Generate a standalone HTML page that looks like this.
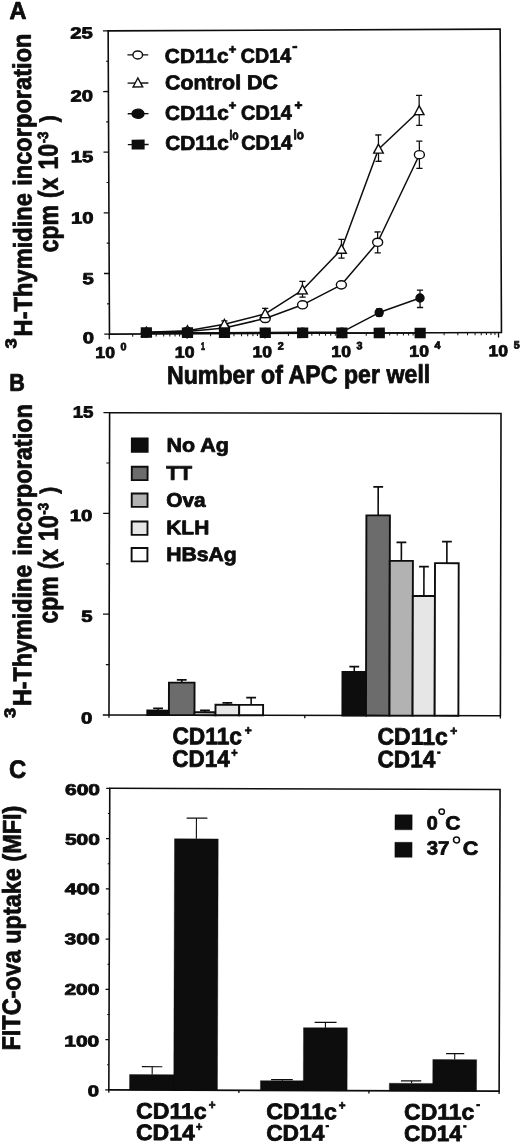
<!DOCTYPE html>
<html><head><meta charset="utf-8"><title>Figure</title>
<style>
html,body{margin:0;padding:0;background:#fff;}
body{width:520px;height:1144px;overflow:hidden;font-family:"Liberation Sans",sans-serif;}
svg{display:block;filter:grayscale(1);}
text{text-rendering:geometricPrecision;}
</style></head><body>
<svg width="520" height="1144" viewBox="0 0 520 1144">
<rect width="520" height="1144" fill="#fff"/>
<g transform="rotate(-0.25 304.4 181.35)">
<text x="10.20" y="17.80" font-size="24.5" font-family="Liberation Sans, sans-serif" font-weight="bold" stroke="#0d0d0d" stroke-width="0.8" stroke-linejoin="round" fill="#0d0d0d" textLength="17.00" lengthAdjust="spacingAndGlyphs" >A</text>
<rect x="108.8" y="30.0" width="392.00" height="303.30" fill="none" stroke="#0d0d0d" stroke-width="1.6"/>
<line x1="103.60" y1="333.30" x2="108.80" y2="333.30" stroke="#0d0d0d" stroke-width="1.3"/>
<text x="82.10" y="342.40" font-size="16" font-family="Liberation Sans, sans-serif" font-weight="bold" stroke="#0d0d0d" stroke-width="0.8" stroke-linejoin="round" fill="#0d0d0d" textLength="11.30" lengthAdjust="spacingAndGlyphs" >0</text>
<line x1="103.60" y1="272.64" x2="108.80" y2="272.64" stroke="#0d0d0d" stroke-width="1.3"/>
<text x="82.10" y="283.40" font-size="16" font-family="Liberation Sans, sans-serif" font-weight="bold" stroke="#0d0d0d" stroke-width="0.8" stroke-linejoin="round" fill="#0d0d0d" textLength="11.30" lengthAdjust="spacingAndGlyphs" >5</text>
<line x1="103.60" y1="211.98" x2="108.80" y2="211.98" stroke="#0d0d0d" stroke-width="1.3"/>
<text x="70.80" y="222.40" font-size="16" font-family="Liberation Sans, sans-serif" font-weight="bold" stroke="#0d0d0d" stroke-width="0.8" stroke-linejoin="round" fill="#0d0d0d" textLength="22.60" lengthAdjust="spacingAndGlyphs" >10</text>
<line x1="103.60" y1="151.32" x2="108.80" y2="151.32" stroke="#0d0d0d" stroke-width="1.3"/>
<text x="70.80" y="161.30" font-size="16" font-family="Liberation Sans, sans-serif" font-weight="bold" stroke="#0d0d0d" stroke-width="0.8" stroke-linejoin="round" fill="#0d0d0d" textLength="22.60" lengthAdjust="spacingAndGlyphs" >15</text>
<line x1="103.60" y1="90.66" x2="108.80" y2="90.66" stroke="#0d0d0d" stroke-width="1.3"/>
<text x="70.80" y="100.40" font-size="16" font-family="Liberation Sans, sans-serif" font-weight="bold" stroke="#0d0d0d" stroke-width="0.8" stroke-linejoin="round" fill="#0d0d0d" textLength="22.60" lengthAdjust="spacingAndGlyphs" >20</text>
<line x1="103.60" y1="30.00" x2="108.80" y2="30.00" stroke="#0d0d0d" stroke-width="1.3"/>
<text x="70.80" y="37.50" font-size="16" font-family="Liberation Sans, sans-serif" font-weight="bold" stroke="#0d0d0d" stroke-width="0.8" stroke-linejoin="round" fill="#0d0d0d" textLength="22.60" lengthAdjust="spacingAndGlyphs" >25</text>
<line x1="106.50" y1="302.97" x2="108.80" y2="302.97" stroke="#0d0d0d" stroke-width="1.1"/>
<line x1="106.50" y1="242.31" x2="108.80" y2="242.31" stroke="#0d0d0d" stroke-width="1.1"/>
<line x1="106.50" y1="181.65" x2="108.80" y2="181.65" stroke="#0d0d0d" stroke-width="1.1"/>
<line x1="106.50" y1="120.99" x2="108.80" y2="120.99" stroke="#0d0d0d" stroke-width="1.1"/>
<line x1="106.50" y1="60.33" x2="108.80" y2="60.33" stroke="#0d0d0d" stroke-width="1.1"/>
<line x1="108.60" y1="333.30" x2="108.60" y2="338.30" stroke="#0d0d0d" stroke-width="1.3"/>
<text x="94.60" y="357.10" font-size="15.8" font-family="Liberation Sans, sans-serif" font-weight="bold" stroke="#0d0d0d" stroke-width="0.8" stroke-linejoin="round" fill="#0d0d0d" textLength="19.60" lengthAdjust="spacingAndGlyphs" >10</text>
<text x="119.80" y="349.40" font-size="10.6" font-family="Liberation Sans, sans-serif" font-weight="bold" stroke="#0d0d0d" stroke-width="0.8" stroke-linejoin="round" fill="#0d0d0d" textLength="6.00" lengthAdjust="spacingAndGlyphs" >0</text>
<line x1="132.04" y1="333.30" x2="132.04" y2="335.90" stroke="#0d0d0d" stroke-width="1.0"/>
<line x1="145.74" y1="333.30" x2="145.74" y2="335.90" stroke="#0d0d0d" stroke-width="1.0"/>
<line x1="155.47" y1="333.30" x2="155.47" y2="335.90" stroke="#0d0d0d" stroke-width="1.0"/>
<line x1="163.01" y1="333.30" x2="163.01" y2="335.90" stroke="#0d0d0d" stroke-width="1.0"/>
<line x1="169.18" y1="333.30" x2="169.18" y2="335.90" stroke="#0d0d0d" stroke-width="1.0"/>
<line x1="174.39" y1="333.30" x2="174.39" y2="335.90" stroke="#0d0d0d" stroke-width="1.0"/>
<line x1="178.91" y1="333.30" x2="178.91" y2="335.90" stroke="#0d0d0d" stroke-width="1.0"/>
<line x1="182.89" y1="333.30" x2="182.89" y2="335.90" stroke="#0d0d0d" stroke-width="1.0"/>
<line x1="186.45" y1="333.30" x2="186.45" y2="338.30" stroke="#0d0d0d" stroke-width="1.3"/>
<text x="174.10" y="357.10" font-size="15.8" font-family="Liberation Sans, sans-serif" font-weight="bold" stroke="#0d0d0d" stroke-width="0.8" stroke-linejoin="round" fill="#0d0d0d" textLength="19.60" lengthAdjust="spacingAndGlyphs" >10</text>
<text x="200.30" y="349.40" font-size="10.6" font-family="Liberation Sans, sans-serif" font-weight="bold" stroke="#0d0d0d" stroke-width="0.8" stroke-linejoin="round" fill="#0d0d0d" textLength="4.00" lengthAdjust="spacingAndGlyphs" >1</text>
<line x1="209.89" y1="333.30" x2="209.89" y2="335.90" stroke="#0d0d0d" stroke-width="1.0"/>
<line x1="223.59" y1="333.30" x2="223.59" y2="335.90" stroke="#0d0d0d" stroke-width="1.0"/>
<line x1="233.32" y1="333.30" x2="233.32" y2="335.90" stroke="#0d0d0d" stroke-width="1.0"/>
<line x1="240.86" y1="333.30" x2="240.86" y2="335.90" stroke="#0d0d0d" stroke-width="1.0"/>
<line x1="247.03" y1="333.30" x2="247.03" y2="335.90" stroke="#0d0d0d" stroke-width="1.0"/>
<line x1="252.24" y1="333.30" x2="252.24" y2="335.90" stroke="#0d0d0d" stroke-width="1.0"/>
<line x1="256.76" y1="333.30" x2="256.76" y2="335.90" stroke="#0d0d0d" stroke-width="1.0"/>
<line x1="260.74" y1="333.30" x2="260.74" y2="335.90" stroke="#0d0d0d" stroke-width="1.0"/>
<line x1="264.30" y1="333.30" x2="264.30" y2="338.30" stroke="#0d0d0d" stroke-width="1.3"/>
<text x="251.80" y="357.10" font-size="15.8" font-family="Liberation Sans, sans-serif" font-weight="bold" stroke="#0d0d0d" stroke-width="0.8" stroke-linejoin="round" fill="#0d0d0d" textLength="19.60" lengthAdjust="spacingAndGlyphs" >10</text>
<text x="277.00" y="349.40" font-size="10.6" font-family="Liberation Sans, sans-serif" font-weight="bold" stroke="#0d0d0d" stroke-width="0.8" stroke-linejoin="round" fill="#0d0d0d" textLength="6.00" lengthAdjust="spacingAndGlyphs" >2</text>
<line x1="287.74" y1="333.30" x2="287.74" y2="335.90" stroke="#0d0d0d" stroke-width="1.0"/>
<line x1="301.44" y1="333.30" x2="301.44" y2="335.90" stroke="#0d0d0d" stroke-width="1.0"/>
<line x1="311.17" y1="333.30" x2="311.17" y2="335.90" stroke="#0d0d0d" stroke-width="1.0"/>
<line x1="318.71" y1="333.30" x2="318.71" y2="335.90" stroke="#0d0d0d" stroke-width="1.0"/>
<line x1="324.88" y1="333.30" x2="324.88" y2="335.90" stroke="#0d0d0d" stroke-width="1.0"/>
<line x1="330.09" y1="333.30" x2="330.09" y2="335.90" stroke="#0d0d0d" stroke-width="1.0"/>
<line x1="334.61" y1="333.30" x2="334.61" y2="335.90" stroke="#0d0d0d" stroke-width="1.0"/>
<line x1="338.59" y1="333.30" x2="338.59" y2="335.90" stroke="#0d0d0d" stroke-width="1.0"/>
<line x1="342.15" y1="333.30" x2="342.15" y2="338.30" stroke="#0d0d0d" stroke-width="1.3"/>
<text x="330.60" y="357.10" font-size="15.8" font-family="Liberation Sans, sans-serif" font-weight="bold" stroke="#0d0d0d" stroke-width="0.8" stroke-linejoin="round" fill="#0d0d0d" textLength="19.60" lengthAdjust="spacingAndGlyphs" >10</text>
<text x="355.80" y="349.40" font-size="10.6" font-family="Liberation Sans, sans-serif" font-weight="bold" stroke="#0d0d0d" stroke-width="0.8" stroke-linejoin="round" fill="#0d0d0d" textLength="6.00" lengthAdjust="spacingAndGlyphs" >3</text>
<line x1="365.59" y1="333.30" x2="365.59" y2="335.90" stroke="#0d0d0d" stroke-width="1.0"/>
<line x1="379.29" y1="333.30" x2="379.29" y2="335.90" stroke="#0d0d0d" stroke-width="1.0"/>
<line x1="389.02" y1="333.30" x2="389.02" y2="335.90" stroke="#0d0d0d" stroke-width="1.0"/>
<line x1="396.56" y1="333.30" x2="396.56" y2="335.90" stroke="#0d0d0d" stroke-width="1.0"/>
<line x1="402.73" y1="333.30" x2="402.73" y2="335.90" stroke="#0d0d0d" stroke-width="1.0"/>
<line x1="407.94" y1="333.30" x2="407.94" y2="335.90" stroke="#0d0d0d" stroke-width="1.0"/>
<line x1="412.46" y1="333.30" x2="412.46" y2="335.90" stroke="#0d0d0d" stroke-width="1.0"/>
<line x1="416.44" y1="333.30" x2="416.44" y2="335.90" stroke="#0d0d0d" stroke-width="1.0"/>
<line x1="420.00" y1="333.30" x2="420.00" y2="338.30" stroke="#0d0d0d" stroke-width="1.3"/>
<text x="408.60" y="357.10" font-size="15.8" font-family="Liberation Sans, sans-serif" font-weight="bold" stroke="#0d0d0d" stroke-width="0.8" stroke-linejoin="round" fill="#0d0d0d" textLength="19.60" lengthAdjust="spacingAndGlyphs" >10</text>
<text x="433.80" y="349.40" font-size="10.6" font-family="Liberation Sans, sans-serif" font-weight="bold" stroke="#0d0d0d" stroke-width="0.8" stroke-linejoin="round" fill="#0d0d0d" textLength="6.00" lengthAdjust="spacingAndGlyphs" >4</text>
<line x1="443.44" y1="333.30" x2="443.44" y2="335.90" stroke="#0d0d0d" stroke-width="1.0"/>
<line x1="457.14" y1="333.30" x2="457.14" y2="335.90" stroke="#0d0d0d" stroke-width="1.0"/>
<line x1="466.87" y1="333.30" x2="466.87" y2="335.90" stroke="#0d0d0d" stroke-width="1.0"/>
<line x1="474.41" y1="333.30" x2="474.41" y2="335.90" stroke="#0d0d0d" stroke-width="1.0"/>
<line x1="480.58" y1="333.30" x2="480.58" y2="335.90" stroke="#0d0d0d" stroke-width="1.0"/>
<line x1="485.79" y1="333.30" x2="485.79" y2="335.90" stroke="#0d0d0d" stroke-width="1.0"/>
<line x1="490.31" y1="333.30" x2="490.31" y2="335.90" stroke="#0d0d0d" stroke-width="1.0"/>
<line x1="494.29" y1="333.30" x2="494.29" y2="335.90" stroke="#0d0d0d" stroke-width="1.0"/>
<line x1="497.85" y1="333.30" x2="497.85" y2="338.30" stroke="#0d0d0d" stroke-width="1.3"/>
<text x="487.80" y="357.10" font-size="15.8" font-family="Liberation Sans, sans-serif" font-weight="bold" stroke="#0d0d0d" stroke-width="0.8" stroke-linejoin="round" fill="#0d0d0d" textLength="19.60" lengthAdjust="spacingAndGlyphs" >10</text>
<text x="513.00" y="349.40" font-size="10.6" font-family="Liberation Sans, sans-serif" font-weight="bold" stroke="#0d0d0d" stroke-width="0.8" stroke-linejoin="round" fill="#0d0d0d" textLength="6.00" lengthAdjust="spacingAndGlyphs" >5</text>
<text x="166.00" y="383.30" font-size="25.6" font-family="Liberation Sans, sans-serif" font-weight="bold" stroke="#0d0d0d" stroke-width="0.8" stroke-linejoin="round" fill="#0d0d0d" textLength="263.40" lengthAdjust="spacingAndGlyphs" >Number of APC per well</text>
<text transform="translate(15.60,347.30) rotate(-90)" font-size="15.5" font-family="Liberation Sans, sans-serif" font-weight="bold" stroke="#0d0d0d" stroke-width="0.8" stroke-linejoin="round" fill="#0d0d0d" textLength="10.30" lengthAdjust="spacingAndGlyphs">3</text>
<text transform="translate(31.40,335.20) rotate(-90)" font-size="25.8" font-family="Liberation Sans, sans-serif" font-weight="bold" stroke="#0d0d0d" stroke-width="0.8" stroke-linejoin="round" fill="#0d0d0d" textLength="143.40" lengthAdjust="spacingAndGlyphs">H-Thymidine</text>
<text transform="translate(31.40,184.60) rotate(-90)" font-size="25.8" font-family="Liberation Sans, sans-serif" font-weight="bold" stroke="#0d0d0d" stroke-width="0.8" stroke-linejoin="round" fill="#0d0d0d" textLength="152.30" lengthAdjust="spacingAndGlyphs">incorporation</text>
<text transform="translate(57.70,251.10) rotate(-90)" font-size="27.5" font-family="Liberation Sans, sans-serif" font-weight="bold" stroke="#0d0d0d" stroke-width="0.8" stroke-linejoin="round" fill="#0d0d0d" textLength="47.10" lengthAdjust="spacingAndGlyphs">cpm</text>
<text transform="translate(57.70,196.80) rotate(-90)" font-size="27.5" font-family="Liberation Sans, sans-serif" font-weight="bold" stroke="#0d0d0d" stroke-width="0.8" stroke-linejoin="round" fill="#0d0d0d" textLength="20.30" lengthAdjust="spacingAndGlyphs">(x</text>
<text transform="translate(57.70,168.50) rotate(-90)" font-size="27.5" font-family="Liberation Sans, sans-serif" font-weight="bold" stroke="#0d0d0d" stroke-width="0.8" stroke-linejoin="round" fill="#0d0d0d" textLength="25.70" lengthAdjust="spacingAndGlyphs">10</text>
<text transform="translate(48.20,142.20) rotate(-90)" font-size="14.8" font-family="Liberation Sans, sans-serif" font-weight="bold" stroke="#0d0d0d" stroke-width="0.8" stroke-linejoin="round" fill="#0d0d0d" textLength="11.80" lengthAdjust="spacingAndGlyphs">-3</text>
<text transform="translate(56.70,121.20) rotate(-90)" font-size="23.5" font-family="Liberation Sans, sans-serif" font-weight="bold" stroke="#0d0d0d" stroke-width="0.8" stroke-linejoin="round" fill="#0d0d0d" textLength="7.00" lengthAdjust="spacingAndGlyphs">)</text>
<polyline points="145.70,331.60 186.80,330.20 223.80,324.00 264.60,313.60 302.00,290.00 341.20,249.50 378.60,149.50 419.50,111.30" fill="none" stroke="#0d0d0d" stroke-width="1.5" stroke-linejoin="round"/>
<polyline points="145.70,331.90 186.80,331.00 223.80,327.60 264.60,318.30 302.00,304.80 340.90,285.00 377.40,242.60 419.50,155.20" fill="none" stroke="#0d0d0d" stroke-width="1.5" stroke-linejoin="round"/>
<polyline points="145.70,332.30 186.80,332.30 223.80,332.30 264.60,332.30 302.00,332.30 341.20,332.30 378.60,312.90 419.50,298.50" fill="none" stroke="#0d0d0d" stroke-width="1.5" stroke-linejoin="round"/>
<polyline points="145.70,331.90 186.80,332.14 223.80,332.36 264.60,332.59 302.00,332.81 341.20,333.04 378.60,333.26 419.50,333.50" fill="none" stroke="#0d0d0d" stroke-width="1.5" stroke-linejoin="round"/>
<line x1="223.80" y1="320.50" x2="223.80" y2="327.00" stroke="#0d0d0d" stroke-width="1.25"/>
<line x1="220.70" y1="320.50" x2="226.90" y2="320.50" stroke="#0d0d0d" stroke-width="1.3"/>
<line x1="220.70" y1="327.00" x2="226.90" y2="327.00" stroke="#0d0d0d" stroke-width="1.3"/>
<line x1="264.60" y1="308.20" x2="264.60" y2="318.50" stroke="#0d0d0d" stroke-width="1.25"/>
<line x1="261.50" y1="308.20" x2="267.70" y2="308.20" stroke="#0d0d0d" stroke-width="1.3"/>
<line x1="261.50" y1="318.50" x2="267.70" y2="318.50" stroke="#0d0d0d" stroke-width="1.3"/>
<line x1="302.00" y1="281.40" x2="302.00" y2="297.20" stroke="#0d0d0d" stroke-width="1.25"/>
<line x1="298.90" y1="281.40" x2="305.10" y2="281.40" stroke="#0d0d0d" stroke-width="1.3"/>
<line x1="298.90" y1="297.20" x2="305.10" y2="297.20" stroke="#0d0d0d" stroke-width="1.3"/>
<line x1="341.20" y1="239.60" x2="341.20" y2="258.20" stroke="#0d0d0d" stroke-width="1.25"/>
<line x1="338.10" y1="239.60" x2="344.30" y2="239.60" stroke="#0d0d0d" stroke-width="1.3"/>
<line x1="338.10" y1="258.20" x2="344.30" y2="258.20" stroke="#0d0d0d" stroke-width="1.3"/>
<line x1="378.60" y1="135.30" x2="378.60" y2="161.60" stroke="#0d0d0d" stroke-width="1.25"/>
<line x1="375.50" y1="135.30" x2="381.70" y2="135.30" stroke="#0d0d0d" stroke-width="1.3"/>
<line x1="375.50" y1="161.60" x2="381.70" y2="161.60" stroke="#0d0d0d" stroke-width="1.3"/>
<line x1="419.50" y1="95.90" x2="419.50" y2="125.80" stroke="#0d0d0d" stroke-width="1.25"/>
<line x1="416.40" y1="95.90" x2="422.60" y2="95.90" stroke="#0d0d0d" stroke-width="1.3"/>
<line x1="416.40" y1="125.80" x2="422.60" y2="125.80" stroke="#0d0d0d" stroke-width="1.3"/>
<line x1="264.60" y1="315.00" x2="264.60" y2="322.00" stroke="#0d0d0d" stroke-width="1.25"/>
<line x1="261.50" y1="315.00" x2="267.70" y2="315.00" stroke="#0d0d0d" stroke-width="1.3"/>
<line x1="261.50" y1="322.00" x2="267.70" y2="322.00" stroke="#0d0d0d" stroke-width="1.3"/>
<line x1="377.40" y1="232.30" x2="377.40" y2="253.20" stroke="#0d0d0d" stroke-width="1.25"/>
<line x1="374.30" y1="232.30" x2="380.50" y2="232.30" stroke="#0d0d0d" stroke-width="1.3"/>
<line x1="374.30" y1="253.20" x2="380.50" y2="253.20" stroke="#0d0d0d" stroke-width="1.3"/>
<line x1="419.50" y1="141.70" x2="419.50" y2="168.80" stroke="#0d0d0d" stroke-width="1.25"/>
<line x1="416.40" y1="141.70" x2="422.60" y2="141.70" stroke="#0d0d0d" stroke-width="1.3"/>
<line x1="416.40" y1="168.80" x2="422.60" y2="168.80" stroke="#0d0d0d" stroke-width="1.3"/>
<line x1="378.60" y1="309.30" x2="378.60" y2="316.50" stroke="#0d0d0d" stroke-width="1.25"/>
<line x1="375.50" y1="309.30" x2="381.70" y2="309.30" stroke="#0d0d0d" stroke-width="1.3"/>
<line x1="375.50" y1="316.50" x2="381.70" y2="316.50" stroke="#0d0d0d" stroke-width="1.3"/>
<line x1="419.50" y1="290.60" x2="419.50" y2="308.00" stroke="#0d0d0d" stroke-width="1.25"/>
<line x1="416.40" y1="290.60" x2="422.60" y2="290.60" stroke="#0d0d0d" stroke-width="1.3"/>
<line x1="416.40" y1="308.00" x2="422.60" y2="308.00" stroke="#0d0d0d" stroke-width="1.3"/>
<ellipse cx="145.70" cy="331.90" rx="5.0" ry="4.1" fill="#fff" stroke="#0d0d0d" stroke-width="1.4"/>
<ellipse cx="186.80" cy="331.00" rx="5.0" ry="4.1" fill="#fff" stroke="#0d0d0d" stroke-width="1.4"/>
<ellipse cx="223.80" cy="327.60" rx="5.0" ry="4.1" fill="#fff" stroke="#0d0d0d" stroke-width="1.4"/>
<ellipse cx="264.60" cy="318.30" rx="5.0" ry="4.1" fill="#fff" stroke="#0d0d0d" stroke-width="1.4"/>
<ellipse cx="302.00" cy="304.80" rx="5.0" ry="4.1" fill="#fff" stroke="#0d0d0d" stroke-width="1.4"/>
<ellipse cx="340.90" cy="285.00" rx="5.0" ry="4.1" fill="#fff" stroke="#0d0d0d" stroke-width="1.4"/>
<ellipse cx="377.40" cy="242.60" rx="5.0" ry="4.1" fill="#fff" stroke="#0d0d0d" stroke-width="1.4"/>
<ellipse cx="419.50" cy="155.20" rx="5.0" ry="4.1" fill="#fff" stroke="#0d0d0d" stroke-width="1.4"/>
<polygon points="145.70,326.60 140.90,335.50 150.50,335.50" fill="#fff" stroke="#0d0d0d" stroke-width="1.4" stroke-linejoin="miter"/>
<polygon points="186.80,325.20 182.00,334.10 191.60,334.10" fill="#fff" stroke="#0d0d0d" stroke-width="1.4" stroke-linejoin="miter"/>
<polygon points="223.80,319.00 219.00,327.90 228.60,327.90" fill="#fff" stroke="#0d0d0d" stroke-width="1.4" stroke-linejoin="miter"/>
<polygon points="264.60,308.60 259.80,317.50 269.40,317.50" fill="#fff" stroke="#0d0d0d" stroke-width="1.4" stroke-linejoin="miter"/>
<polygon points="302.00,285.00 297.20,293.90 306.80,293.90" fill="#fff" stroke="#0d0d0d" stroke-width="1.4" stroke-linejoin="miter"/>
<polygon points="341.20,244.50 336.40,253.40 346.00,253.40" fill="#fff" stroke="#0d0d0d" stroke-width="1.4" stroke-linejoin="miter"/>
<polygon points="378.60,144.50 373.80,153.40 383.40,153.40" fill="#fff" stroke="#0d0d0d" stroke-width="1.4" stroke-linejoin="miter"/>
<polygon points="419.50,106.30 414.70,115.20 424.30,115.20" fill="#fff" stroke="#0d0d0d" stroke-width="1.4" stroke-linejoin="miter"/>
<ellipse cx="145.70" cy="332.30" rx="4.0" ry="4.0" fill="#0d0d0d" stroke="#0d0d0d" stroke-width="1.4"/>
<ellipse cx="186.80" cy="332.30" rx="4.0" ry="4.0" fill="#0d0d0d" stroke="#0d0d0d" stroke-width="1.4"/>
<ellipse cx="223.80" cy="332.30" rx="4.0" ry="4.0" fill="#0d0d0d" stroke="#0d0d0d" stroke-width="1.4"/>
<ellipse cx="264.60" cy="332.30" rx="4.0" ry="4.0" fill="#0d0d0d" stroke="#0d0d0d" stroke-width="1.4"/>
<ellipse cx="302.00" cy="332.30" rx="4.0" ry="4.0" fill="#0d0d0d" stroke="#0d0d0d" stroke-width="1.4"/>
<ellipse cx="341.20" cy="332.30" rx="4.0" ry="4.0" fill="#0d0d0d" stroke="#0d0d0d" stroke-width="1.4"/>
<ellipse cx="378.60" cy="312.90" rx="4.0" ry="4.0" fill="#0d0d0d" stroke="#0d0d0d" stroke-width="1.4"/>
<ellipse cx="419.50" cy="298.50" rx="4.0" ry="4.0" fill="#0d0d0d" stroke="#0d0d0d" stroke-width="1.4"/>
<rect x="140.10" y="326.60" width="11.2" height="10.6" fill="#0d0d0d"/>
<rect x="181.20" y="326.84" width="11.2" height="10.6" fill="#0d0d0d"/>
<rect x="218.20" y="327.06" width="11.2" height="10.6" fill="#0d0d0d"/>
<rect x="259.00" y="327.29" width="11.2" height="10.6" fill="#0d0d0d"/>
<rect x="296.40" y="327.51" width="11.2" height="10.6" fill="#0d0d0d"/>
<rect x="335.60" y="327.74" width="11.2" height="10.6" fill="#0d0d0d"/>
<rect x="373.00" y="327.96" width="11.2" height="10.6" fill="#0d0d0d"/>
<rect x="413.90" y="328.20" width="11.2" height="10.6" fill="#0d0d0d"/>
<line x1="128.00" y1="54.20" x2="148.80" y2="54.20" stroke="#0d0d0d" stroke-width="1.3"/>
<line x1="128.00" y1="82.30" x2="148.80" y2="82.30" stroke="#0d0d0d" stroke-width="1.3"/>
<line x1="128.00" y1="113.00" x2="148.80" y2="113.00" stroke="#0d0d0d" stroke-width="1.3"/>
<line x1="128.00" y1="143.80" x2="148.80" y2="143.80" stroke="#0d0d0d" stroke-width="1.3"/>
<ellipse cx="138.30" cy="54.20" rx="4.8" ry="4.0" fill="#fff" stroke="#0d0d0d" stroke-width="1.4"/>
<polygon points="138.30,77.30 133.50,86.20 143.10,86.20" fill="#fff" stroke="#0d0d0d" stroke-width="1.4" stroke-linejoin="miter"/>
<ellipse cx="138.30" cy="113.00" rx="6.0" ry="4.6" fill="#0d0d0d" stroke="#0d0d0d" stroke-width="1.4"/>
<rect x="131.80" y="138.90" width="13.0" height="9.8" fill="#0d0d0d"/>
<text x="165.40" y="62.40" font-size="20.2" font-family="Liberation Sans, sans-serif" font-weight="bold" stroke="#0d0d0d" stroke-width="0.8" stroke-linejoin="round" fill="#0d0d0d" textLength="63.60" lengthAdjust="spacingAndGlyphs" >CD11c</text>
<text x="229.20" y="53.40" font-size="13" font-family="Liberation Sans, sans-serif" font-weight="bold" stroke="#0d0d0d" stroke-width="0.8" stroke-linejoin="round" fill="#0d0d0d" textLength="7.60" lengthAdjust="spacingAndGlyphs" >+</text>
<text x="241.40" y="62.40" font-size="20.2" font-family="Liberation Sans, sans-serif" font-weight="bold" stroke="#0d0d0d" stroke-width="0.8" stroke-linejoin="round" fill="#0d0d0d" textLength="50.20" lengthAdjust="spacingAndGlyphs" >CD14</text>
<text x="292.80" y="50.80" font-size="14" font-family="Liberation Sans, sans-serif" font-weight="bold" stroke="#0d0d0d" stroke-width="0.8" stroke-linejoin="round" fill="#0d0d0d" textLength="5.20" lengthAdjust="spacingAndGlyphs" >-</text>
<text x="165.40" y="88.90" font-size="20.2" font-family="Liberation Sans, sans-serif" font-weight="bold" stroke="#0d0d0d" stroke-width="0.8" stroke-linejoin="round" fill="#0d0d0d" textLength="113.00" lengthAdjust="spacingAndGlyphs" >Control DC</text>
<text x="165.40" y="119.40" font-size="20.2" font-family="Liberation Sans, sans-serif" font-weight="bold" stroke="#0d0d0d" stroke-width="0.8" stroke-linejoin="round" fill="#0d0d0d" textLength="63.60" lengthAdjust="spacingAndGlyphs" >CD11c</text>
<text x="229.00" y="109.40" font-size="13" font-family="Liberation Sans, sans-serif" font-weight="bold" stroke="#0d0d0d" stroke-width="0.8" stroke-linejoin="round" fill="#0d0d0d" textLength="7.60" lengthAdjust="spacingAndGlyphs" >+</text>
<text x="241.40" y="119.40" font-size="20.2" font-family="Liberation Sans, sans-serif" font-weight="bold" stroke="#0d0d0d" stroke-width="0.8" stroke-linejoin="round" fill="#0d0d0d" textLength="50.80" lengthAdjust="spacingAndGlyphs" >CD14</text>
<text x="294.80" y="109.60" font-size="13.5" font-family="Liberation Sans, sans-serif" font-weight="bold" stroke="#0d0d0d" stroke-width="0.8" stroke-linejoin="round" fill="#0d0d0d" textLength="8.00" lengthAdjust="spacingAndGlyphs" >+</text>
<text x="165.40" y="149.40" font-size="20.2" font-family="Liberation Sans, sans-serif" font-weight="bold" stroke="#0d0d0d" stroke-width="0.8" stroke-linejoin="round" fill="#0d0d0d" textLength="63.60" lengthAdjust="spacingAndGlyphs" >CD11c</text>
<text x="229.60" y="139.40" font-size="13.5" font-family="Liberation Sans, sans-serif" font-weight="bold" stroke="#0d0d0d" stroke-width="0.8" stroke-linejoin="round" fill="#0d0d0d" textLength="9.20" lengthAdjust="spacingAndGlyphs" >lo</text>
<text x="241.40" y="149.40" font-size="20.2" font-family="Liberation Sans, sans-serif" font-weight="bold" stroke="#0d0d0d" stroke-width="0.8" stroke-linejoin="round" fill="#0d0d0d" textLength="50.80" lengthAdjust="spacingAndGlyphs" >CD14</text>
<text x="293.60" y="139.20" font-size="13.5" font-family="Liberation Sans, sans-serif" font-weight="bold" stroke="#0d0d0d" stroke-width="0.8" stroke-linejoin="round" fill="#0d0d0d" textLength="10.40" lengthAdjust="spacingAndGlyphs" >lo</text>
</g>
<g transform="rotate(0.12 305.1 564.05)">
<text x="9.00" y="391.30" font-size="24" font-family="Liberation Sans, sans-serif" font-weight="bold" stroke="#0d0d0d" stroke-width="0.8" stroke-linejoin="round" fill="#0d0d0d" textLength="15.60" lengthAdjust="spacingAndGlyphs" >B</text>
<rect x="109.3" y="413.1" width="391.40" height="302.30" fill="none" stroke="#0d0d0d" stroke-width="1.6"/>
<line x1="103.10" y1="715.40" x2="109.30" y2="715.40" stroke="#0d0d0d" stroke-width="1.3"/>
<text x="81.30" y="724.00" font-size="16" font-family="Liberation Sans, sans-serif" font-weight="bold" stroke="#0d0d0d" stroke-width="0.8" stroke-linejoin="round" fill="#0d0d0d" textLength="11.30" lengthAdjust="spacingAndGlyphs" >0</text>
<line x1="103.10" y1="614.63" x2="109.30" y2="614.63" stroke="#0d0d0d" stroke-width="1.3"/>
<text x="81.30" y="622.20" font-size="16" font-family="Liberation Sans, sans-serif" font-weight="bold" stroke="#0d0d0d" stroke-width="0.8" stroke-linejoin="round" fill="#0d0d0d" textLength="11.30" lengthAdjust="spacingAndGlyphs" >5</text>
<line x1="103.10" y1="513.87" x2="109.30" y2="513.87" stroke="#0d0d0d" stroke-width="1.3"/>
<text x="69.60" y="521.60" font-size="16" font-family="Liberation Sans, sans-serif" font-weight="bold" stroke="#0d0d0d" stroke-width="0.8" stroke-linejoin="round" fill="#0d0d0d" textLength="22.60" lengthAdjust="spacingAndGlyphs" >10</text>
<line x1="103.10" y1="413.10" x2="109.30" y2="413.10" stroke="#0d0d0d" stroke-width="1.3"/>
<text x="72.40" y="418.00" font-size="16" font-family="Liberation Sans, sans-serif" font-weight="bold" stroke="#0d0d0d" stroke-width="0.8" stroke-linejoin="round" fill="#0d0d0d" textLength="20.80" lengthAdjust="spacingAndGlyphs" >15</text>
<line x1="106.10" y1="665.02" x2="109.30" y2="665.02" stroke="#0d0d0d" stroke-width="1.1"/>
<line x1="106.10" y1="564.25" x2="109.30" y2="564.25" stroke="#0d0d0d" stroke-width="1.1"/>
<line x1="106.10" y1="463.48" x2="109.30" y2="463.48" stroke="#0d0d0d" stroke-width="1.1"/>
<line x1="109.30" y1="715.40" x2="109.30" y2="718.20" stroke="#0d0d0d" stroke-width="1.3"/>
<line x1="305.10" y1="715.40" x2="305.10" y2="718.20" stroke="#0d0d0d" stroke-width="1.3"/>
<line x1="500.70" y1="715.40" x2="500.70" y2="718.20" stroke="#0d0d0d" stroke-width="1.3"/>
<text transform="translate(15.60,718.70) rotate(-90)" font-size="15.5" font-family="Liberation Sans, sans-serif" font-weight="bold" stroke="#0d0d0d" stroke-width="0.8" stroke-linejoin="round" fill="#0d0d0d" textLength="10.30" lengthAdjust="spacingAndGlyphs">3</text>
<text transform="translate(31.40,706.60) rotate(-90)" font-size="25.8" font-family="Liberation Sans, sans-serif" font-weight="bold" stroke="#0d0d0d" stroke-width="0.8" stroke-linejoin="round" fill="#0d0d0d" textLength="141.20" lengthAdjust="spacingAndGlyphs">H-Thymidine</text>
<text transform="translate(31.40,556.40) rotate(-90)" font-size="25.8" font-family="Liberation Sans, sans-serif" font-weight="bold" stroke="#0d0d0d" stroke-width="0.8" stroke-linejoin="round" fill="#0d0d0d" textLength="151.80" lengthAdjust="spacingAndGlyphs">incorporation</text>
<text transform="translate(57.70,624.10) rotate(-90)" font-size="27.5" font-family="Liberation Sans, sans-serif" font-weight="bold" stroke="#0d0d0d" stroke-width="0.8" stroke-linejoin="round" fill="#0d0d0d" textLength="47.10" lengthAdjust="spacingAndGlyphs">cpm</text>
<text transform="translate(57.70,569.80) rotate(-90)" font-size="27.5" font-family="Liberation Sans, sans-serif" font-weight="bold" stroke="#0d0d0d" stroke-width="0.8" stroke-linejoin="round" fill="#0d0d0d" textLength="20.30" lengthAdjust="spacingAndGlyphs">(x</text>
<text transform="translate(57.70,541.50) rotate(-90)" font-size="27.5" font-family="Liberation Sans, sans-serif" font-weight="bold" stroke="#0d0d0d" stroke-width="0.8" stroke-linejoin="round" fill="#0d0d0d" textLength="25.70" lengthAdjust="spacingAndGlyphs">10</text>
<text transform="translate(48.20,515.20) rotate(-90)" font-size="14.8" font-family="Liberation Sans, sans-serif" font-weight="bold" stroke="#0d0d0d" stroke-width="0.8" stroke-linejoin="round" fill="#0d0d0d" textLength="11.80" lengthAdjust="spacingAndGlyphs">-3</text>
<text transform="translate(56.70,494.20) rotate(-90)" font-size="23.5" font-family="Liberation Sans, sans-serif" font-weight="bold" stroke="#0d0d0d" stroke-width="0.8" stroke-linejoin="round" fill="#0d0d0d" textLength="7.00" lengthAdjust="spacingAndGlyphs">)</text>
<rect x="131.60" y="438.80" width="15.80" height="13.40" fill="#0d0d0d" stroke="#0d0d0d" stroke-width="1.9"/>
<text x="166.20" y="452.00" font-size="19.8" font-family="Liberation Sans, sans-serif" font-weight="bold" stroke="#0d0d0d" stroke-width="0.8" stroke-linejoin="round" fill="#0d0d0d" textLength="62.30" lengthAdjust="spacingAndGlyphs" >No Ag</text>
<rect x="131.60" y="467.10" width="15.80" height="13.40" fill="#6c6c6c" stroke="#0d0d0d" stroke-width="1.9"/>
<text x="166.20" y="480.00" font-size="19.8" font-family="Liberation Sans, sans-serif" font-weight="bold" stroke="#0d0d0d" stroke-width="0.8" stroke-linejoin="round" fill="#0d0d0d" textLength="25.60" lengthAdjust="spacingAndGlyphs" >TT</text>
<rect x="131.60" y="493.80" width="15.80" height="13.40" fill="#b2b2b2" stroke="#0d0d0d" stroke-width="1.9"/>
<text x="166.20" y="507.00" font-size="19.8" font-family="Liberation Sans, sans-serif" font-weight="bold" stroke="#0d0d0d" stroke-width="0.8" stroke-linejoin="round" fill="#0d0d0d" textLength="39.30" lengthAdjust="spacingAndGlyphs" >Ova</text>
<rect x="131.60" y="521.80" width="15.80" height="13.40" fill="#e6e6e6" stroke="#0d0d0d" stroke-width="1.9"/>
<text x="166.20" y="534.50" font-size="19.8" font-family="Liberation Sans, sans-serif" font-weight="bold" stroke="#0d0d0d" stroke-width="0.8" stroke-linejoin="round" fill="#0d0d0d" textLength="43.00" lengthAdjust="spacingAndGlyphs" >KLH</text>
<rect x="131.60" y="548.30" width="15.80" height="13.40" fill="#ffffff" stroke="#0d0d0d" stroke-width="1.9"/>
<text x="166.20" y="561.30" font-size="19.8" font-family="Liberation Sans, sans-serif" font-weight="bold" stroke="#0d0d0d" stroke-width="0.8" stroke-linejoin="round" fill="#0d0d0d" textLength="70.60" lengthAdjust="spacingAndGlyphs" >HBsAg</text>
<line x1="158.40" y1="710.90" x2="158.40" y2="708.70" stroke="#0d0d0d" stroke-width="1.6"/>
<line x1="153.50" y1="708.70" x2="163.30" y2="708.70" stroke="#0d0d0d" stroke-width="1.7"/>
<rect x="147.60" y="710.90" width="21.60" height="4.50" fill="#0d0d0d" stroke="#0d0d0d" stroke-width="1.9"/>
<line x1="182.00" y1="682.90" x2="182.00" y2="680.20" stroke="#0d0d0d" stroke-width="1.6"/>
<line x1="177.10" y1="680.20" x2="186.90" y2="680.20" stroke="#0d0d0d" stroke-width="1.7"/>
<rect x="169.20" y="682.90" width="25.60" height="32.50" fill="#6c6c6c" stroke="#0d0d0d" stroke-width="1.9"/>
<line x1="205.30" y1="712.40" x2="205.30" y2="710.60" stroke="#0d0d0d" stroke-width="1.6"/>
<line x1="200.40" y1="710.60" x2="210.20" y2="710.60" stroke="#0d0d0d" stroke-width="1.7"/>
<rect x="194.80" y="712.40" width="21.00" height="3.00" fill="#b2b2b2" stroke="#0d0d0d" stroke-width="1.9"/>
<line x1="227.65" y1="705.00" x2="227.65" y2="703.10" stroke="#0d0d0d" stroke-width="1.6"/>
<line x1="222.75" y1="703.10" x2="232.55" y2="703.10" stroke="#0d0d0d" stroke-width="1.7"/>
<rect x="215.80" y="705.00" width="23.70" height="10.40" fill="#e6e6e6" stroke="#0d0d0d" stroke-width="1.9"/>
<line x1="251.45" y1="705.00" x2="251.45" y2="697.70" stroke="#0d0d0d" stroke-width="1.6"/>
<line x1="246.55" y1="697.70" x2="256.35" y2="697.70" stroke="#0d0d0d" stroke-width="1.7"/>
<rect x="239.50" y="705.00" width="23.90" height="10.40" fill="#ffffff" stroke="#0d0d0d" stroke-width="1.9"/>
<line x1="354.50" y1="671.90" x2="354.50" y2="666.60" stroke="#0d0d0d" stroke-width="1.6"/>
<line x1="349.60" y1="666.60" x2="359.40" y2="666.60" stroke="#0d0d0d" stroke-width="1.7"/>
<rect x="342.70" y="671.90" width="23.60" height="43.50" fill="#0d0d0d" stroke="#0d0d0d" stroke-width="1.9"/>
<line x1="378.05" y1="515.20" x2="378.05" y2="486.70" stroke="#0d0d0d" stroke-width="1.6"/>
<line x1="373.15" y1="486.70" x2="382.95" y2="486.70" stroke="#0d0d0d" stroke-width="1.7"/>
<rect x="366.30" y="515.20" width="23.50" height="200.20" fill="#6c6c6c" stroke="#0d0d0d" stroke-width="1.9"/>
<line x1="401.35" y1="560.70" x2="401.35" y2="542.20" stroke="#0d0d0d" stroke-width="1.6"/>
<line x1="396.45" y1="542.20" x2="406.25" y2="542.20" stroke="#0d0d0d" stroke-width="1.7"/>
<rect x="389.80" y="560.70" width="23.10" height="154.70" fill="#b2b2b2" stroke="#0d0d0d" stroke-width="1.9"/>
<line x1="423.95" y1="595.70" x2="423.95" y2="566.40" stroke="#0d0d0d" stroke-width="1.6"/>
<line x1="419.05" y1="566.40" x2="428.85" y2="566.40" stroke="#0d0d0d" stroke-width="1.7"/>
<rect x="412.90" y="595.70" width="22.10" height="119.70" fill="#e6e6e6" stroke="#0d0d0d" stroke-width="1.9"/>
<line x1="446.85" y1="562.90" x2="446.85" y2="541.40" stroke="#0d0d0d" stroke-width="1.6"/>
<line x1="441.95" y1="541.40" x2="451.75" y2="541.40" stroke="#0d0d0d" stroke-width="1.7"/>
<rect x="435.00" y="562.90" width="23.70" height="152.50" fill="#ffffff" stroke="#0d0d0d" stroke-width="1.9"/>
<text x="172.80" y="744.40" font-size="23.8" font-family="Liberation Sans, sans-serif" font-weight="bold" stroke="#0d0d0d" stroke-width="0.8" stroke-linejoin="round" fill="#0d0d0d" textLength="69.60" lengthAdjust="spacingAndGlyphs" >CD11c</text>
<text x="245.00" y="734.60" font-size="12.5" font-family="Liberation Sans, sans-serif" font-weight="bold" stroke="#0d0d0d" stroke-width="0.8" stroke-linejoin="round" fill="#0d0d0d" textLength="7.00" lengthAdjust="spacingAndGlyphs" >+</text>
<text x="172.80" y="767.00" font-size="23.8" font-family="Liberation Sans, sans-serif" font-weight="bold" stroke="#0d0d0d" stroke-width="0.8" stroke-linejoin="round" fill="#0d0d0d" textLength="57.40" lengthAdjust="spacingAndGlyphs" >CD14</text>
<text x="231.60" y="757.00" font-size="12" font-family="Liberation Sans, sans-serif" font-weight="bold" stroke="#0d0d0d" stroke-width="0.8" stroke-linejoin="round" fill="#0d0d0d" textLength="6.40" lengthAdjust="spacingAndGlyphs" >+</text>
<text x="377.90" y="744.40" font-size="23.8" font-family="Liberation Sans, sans-serif" font-weight="bold" stroke="#0d0d0d" stroke-width="0.8" stroke-linejoin="round" fill="#0d0d0d" textLength="70.20" lengthAdjust="spacingAndGlyphs" >CD11c</text>
<text x="450.70" y="734.60" font-size="12.5" font-family="Liberation Sans, sans-serif" font-weight="bold" stroke="#0d0d0d" stroke-width="0.8" stroke-linejoin="round" fill="#0d0d0d" textLength="7.00" lengthAdjust="spacingAndGlyphs" >+</text>
<text x="377.90" y="767.00" font-size="23.8" font-family="Liberation Sans, sans-serif" font-weight="bold" stroke="#0d0d0d" stroke-width="0.8" stroke-linejoin="round" fill="#0d0d0d" textLength="58.00" lengthAdjust="spacingAndGlyphs" >CD14</text>
<text x="437.30" y="756.00" font-size="14" font-family="Liberation Sans, sans-serif" font-weight="bold" stroke="#0d0d0d" stroke-width="0.8" stroke-linejoin="round" fill="#0d0d0d" textLength="3.60" lengthAdjust="spacingAndGlyphs" >-</text>
</g>
<g transform="rotate(0.18 304.6 939.55)">
<text x="8.60" y="778.70" font-size="25" font-family="Liberation Sans, sans-serif" font-weight="bold" stroke="#0d0d0d" stroke-width="0.8" stroke-linejoin="round" fill="#0d0d0d" textLength="17.20" lengthAdjust="spacingAndGlyphs" >C</text>
<rect x="109.3" y="788.9" width="390.30" height="301.60" fill="none" stroke="#0d0d0d" stroke-width="1.6"/>
<line x1="105.70" y1="1090.50" x2="109.30" y2="1090.50" stroke="#0d0d0d" stroke-width="1.3"/>
<text x="88.30" y="1096.90" font-size="15.6" font-family="Liberation Sans, sans-serif" font-weight="bold" stroke="#0d0d0d" stroke-width="0.8" stroke-linejoin="round" fill="#0d0d0d" textLength="11.30" lengthAdjust="spacingAndGlyphs" >0</text>
<line x1="105.70" y1="1040.23" x2="109.30" y2="1040.23" stroke="#0d0d0d" stroke-width="1.3"/>
<text x="64.60" y="1047.20" font-size="15.6" font-family="Liberation Sans, sans-serif" font-weight="bold" stroke="#0d0d0d" stroke-width="0.8" stroke-linejoin="round" fill="#0d0d0d" textLength="35.00" lengthAdjust="spacingAndGlyphs" >100</text>
<line x1="105.70" y1="989.97" x2="109.30" y2="989.97" stroke="#0d0d0d" stroke-width="1.3"/>
<text x="64.60" y="995.40" font-size="15.6" font-family="Liberation Sans, sans-serif" font-weight="bold" stroke="#0d0d0d" stroke-width="0.8" stroke-linejoin="round" fill="#0d0d0d" textLength="35.00" lengthAdjust="spacingAndGlyphs" >200</text>
<line x1="105.70" y1="939.70" x2="109.30" y2="939.70" stroke="#0d0d0d" stroke-width="1.3"/>
<text x="64.60" y="945.00" font-size="15.6" font-family="Liberation Sans, sans-serif" font-weight="bold" stroke="#0d0d0d" stroke-width="0.8" stroke-linejoin="round" fill="#0d0d0d" textLength="35.00" lengthAdjust="spacingAndGlyphs" >300</text>
<line x1="105.70" y1="889.43" x2="109.30" y2="889.43" stroke="#0d0d0d" stroke-width="1.3"/>
<text x="64.60" y="895.00" font-size="15.6" font-family="Liberation Sans, sans-serif" font-weight="bold" stroke="#0d0d0d" stroke-width="0.8" stroke-linejoin="round" fill="#0d0d0d" textLength="35.00" lengthAdjust="spacingAndGlyphs" >400</text>
<line x1="105.70" y1="839.17" x2="109.30" y2="839.17" stroke="#0d0d0d" stroke-width="1.3"/>
<text x="64.60" y="845.50" font-size="15.6" font-family="Liberation Sans, sans-serif" font-weight="bold" stroke="#0d0d0d" stroke-width="0.8" stroke-linejoin="round" fill="#0d0d0d" textLength="35.00" lengthAdjust="spacingAndGlyphs" >500</text>
<line x1="105.70" y1="788.90" x2="109.30" y2="788.90" stroke="#0d0d0d" stroke-width="1.3"/>
<text x="64.60" y="795.80" font-size="15.6" font-family="Liberation Sans, sans-serif" font-weight="bold" stroke="#0d0d0d" stroke-width="0.8" stroke-linejoin="round" fill="#0d0d0d" textLength="35.00" lengthAdjust="spacingAndGlyphs" >600</text>
<line x1="107.50" y1="1065.37" x2="109.30" y2="1065.37" stroke="#0d0d0d" stroke-width="1.0"/>
<line x1="107.50" y1="1015.10" x2="109.30" y2="1015.10" stroke="#0d0d0d" stroke-width="1.0"/>
<line x1="107.50" y1="964.83" x2="109.30" y2="964.83" stroke="#0d0d0d" stroke-width="1.0"/>
<line x1="107.50" y1="914.57" x2="109.30" y2="914.57" stroke="#0d0d0d" stroke-width="1.0"/>
<line x1="107.50" y1="864.30" x2="109.30" y2="864.30" stroke="#0d0d0d" stroke-width="1.0"/>
<line x1="107.50" y1="814.03" x2="109.30" y2="814.03" stroke="#0d0d0d" stroke-width="1.0"/>
<line x1="109.30" y1="1090.50" x2="109.30" y2="1093.30" stroke="#0d0d0d" stroke-width="1.3"/>
<line x1="239.40" y1="1090.50" x2="239.40" y2="1093.30" stroke="#0d0d0d" stroke-width="1.3"/>
<line x1="369.40" y1="1090.50" x2="369.40" y2="1093.30" stroke="#0d0d0d" stroke-width="1.3"/>
<line x1="499.60" y1="1090.50" x2="499.60" y2="1093.30" stroke="#0d0d0d" stroke-width="1.3"/>
<text transform="translate(20.40,1051.40) rotate(-90)" font-size="25.6" font-family="Liberation Sans, sans-serif" font-weight="bold" stroke="#0d0d0d" stroke-width="0.8" stroke-linejoin="round" fill="#0d0d0d" textLength="244.80" lengthAdjust="spacingAndGlyphs">FITC-ova uptake (MFI)</text>
<line x1="152.60" y1="1075.10" x2="152.60" y2="1067.20" stroke="#0d0d0d" stroke-width="1.1"/>
<line x1="142.30" y1="1067.20" x2="162.70" y2="1067.20" stroke="#0d0d0d" stroke-width="1.2"/>
<rect x="130.00" y="1075.10" width="45.20" height="15.40" fill="#0d0d0d" stroke="#0d0d0d" stroke-width="0.4"/>
<line x1="196.05" y1="839.20" x2="196.05" y2="818.50" stroke="#0d0d0d" stroke-width="1.1"/>
<line x1="186.30" y1="818.50" x2="207.00" y2="818.50" stroke="#0d0d0d" stroke-width="1.2"/>
<rect x="174.20" y="839.20" width="43.70" height="251.30" fill="#0d0d0d" stroke="#0d0d0d" stroke-width="0.4"/>
<line x1="282.85" y1="1080.80" x2="282.85" y2="1079.70" stroke="#0d0d0d" stroke-width="1.1"/>
<line x1="271.50" y1="1079.70" x2="293.20" y2="1079.70" stroke="#0d0d0d" stroke-width="1.2"/>
<rect x="260.90" y="1080.80" width="43.90" height="9.70" fill="#0d0d0d" stroke="#0d0d0d" stroke-width="0.4"/>
<line x1="325.70" y1="1027.70" x2="325.70" y2="1022.30" stroke="#0d0d0d" stroke-width="1.1"/>
<line x1="314.90" y1="1022.30" x2="336.80" y2="1022.30" stroke="#0d0d0d" stroke-width="1.2"/>
<rect x="303.80" y="1027.70" width="43.80" height="62.80" fill="#0d0d0d" stroke="#0d0d0d" stroke-width="0.4"/>
<line x1="412.00" y1="1083.00" x2="412.00" y2="1080.60" stroke="#0d0d0d" stroke-width="1.1"/>
<line x1="401.40" y1="1080.60" x2="421.70" y2="1080.60" stroke="#0d0d0d" stroke-width="1.2"/>
<rect x="389.80" y="1083.00" width="44.40" height="7.50" fill="#0d0d0d" stroke="#0d0d0d" stroke-width="0.4"/>
<line x1="455.10" y1="1059.10" x2="455.10" y2="1053.10" stroke="#0d0d0d" stroke-width="1.1"/>
<line x1="446.50" y1="1053.10" x2="464.60" y2="1053.10" stroke="#0d0d0d" stroke-width="1.2"/>
<rect x="433.20" y="1059.10" width="43.80" height="31.40" fill="#0d0d0d" stroke="#0d0d0d" stroke-width="0.4"/>
<rect x="394.60" y="814.50" width="17.20" height="15.00" fill="#0d0d0d" stroke="#0d0d0d" stroke-width="0.4"/>
<rect x="394.60" y="842.00" width="17.20" height="15.00" fill="#0d0d0d" stroke="#0d0d0d" stroke-width="0.4"/>
<text x="426.40" y="829.00" font-size="19" font-family="Liberation Sans, sans-serif" font-weight="bold" stroke="#0d0d0d" stroke-width="0.8" stroke-linejoin="round" fill="#0d0d0d" textLength="11.00" lengthAdjust="spacingAndGlyphs" >0</text>
<circle cx="441.3" cy="811.2" r="2.7" fill="none" stroke="#0d0d0d" stroke-width="1.5"/>
<text x="444.80" y="829.00" font-size="19" font-family="Liberation Sans, sans-serif" font-weight="bold" stroke="#0d0d0d" stroke-width="0.8" stroke-linejoin="round" fill="#0d0d0d" textLength="15.20" lengthAdjust="spacingAndGlyphs" >C</text>
<text x="426.40" y="854.20" font-size="19" font-family="Liberation Sans, sans-serif" font-weight="bold" stroke="#0d0d0d" stroke-width="0.8" stroke-linejoin="round" fill="#0d0d0d" textLength="22.60" lengthAdjust="spacingAndGlyphs" >37</text>
<circle cx="456.2" cy="839.4" r="3.0" fill="none" stroke="#0d0d0d" stroke-width="1.5"/>
<text x="462.40" y="854.20" font-size="19" font-family="Liberation Sans, sans-serif" font-weight="bold" stroke="#0d0d0d" stroke-width="0.8" stroke-linejoin="round" fill="#0d0d0d" textLength="15.60" lengthAdjust="spacingAndGlyphs" >C</text>
<text x="136.60" y="1119.10" font-size="22.2" font-family="Liberation Sans, sans-serif" font-weight="bold" stroke="#0d0d0d" stroke-width="0.8" stroke-linejoin="round" fill="#0d0d0d" textLength="70.60" lengthAdjust="spacingAndGlyphs" >CD11c</text>
<text x="209.20" y="1109.40" font-size="12.5" font-family="Liberation Sans, sans-serif" font-weight="bold" stroke="#0d0d0d" stroke-width="0.8" stroke-linejoin="round" fill="#0d0d0d" textLength="6.80" lengthAdjust="spacingAndGlyphs" >+</text>
<text x="136.60" y="1140.60" font-size="22.2" font-family="Liberation Sans, sans-serif" font-weight="bold" stroke="#0d0d0d" stroke-width="0.8" stroke-linejoin="round" fill="#0d0d0d" textLength="58.80" lengthAdjust="spacingAndGlyphs" >CD14</text>
<text x="196.60" y="1131.20" font-size="12" font-family="Liberation Sans, sans-serif" font-weight="bold" stroke="#0d0d0d" stroke-width="0.8" stroke-linejoin="round" fill="#0d0d0d" textLength="6.40" lengthAdjust="spacingAndGlyphs" >+</text>
<text x="266.80" y="1119.10" font-size="22.2" font-family="Liberation Sans, sans-serif" font-weight="bold" stroke="#0d0d0d" stroke-width="0.8" stroke-linejoin="round" fill="#0d0d0d" textLength="70.60" lengthAdjust="spacingAndGlyphs" >CD11c</text>
<text x="339.40" y="1109.40" font-size="12.5" font-family="Liberation Sans, sans-serif" font-weight="bold" stroke="#0d0d0d" stroke-width="0.8" stroke-linejoin="round" fill="#0d0d0d" textLength="6.80" lengthAdjust="spacingAndGlyphs" >+</text>
<text x="266.80" y="1140.60" font-size="22.2" font-family="Liberation Sans, sans-serif" font-weight="bold" stroke="#0d0d0d" stroke-width="0.8" stroke-linejoin="round" fill="#0d0d0d" textLength="58.20" lengthAdjust="spacingAndGlyphs" >CD14</text>
<text x="326.20" y="1129.60" font-size="14" font-family="Liberation Sans, sans-serif" font-weight="bold" stroke="#0d0d0d" stroke-width="0.8" stroke-linejoin="round" fill="#0d0d0d" textLength="3.60" lengthAdjust="spacingAndGlyphs" >-</text>
<text x="404.70" y="1119.10" font-size="22.2" font-family="Liberation Sans, sans-serif" font-weight="bold" stroke="#0d0d0d" stroke-width="0.8" stroke-linejoin="round" fill="#0d0d0d" textLength="70.20" lengthAdjust="spacingAndGlyphs" >CD11c</text>
<text x="476.90" y="1108.10" font-size="14" font-family="Liberation Sans, sans-serif" font-weight="bold" stroke="#0d0d0d" stroke-width="0.8" stroke-linejoin="round" fill="#0d0d0d" textLength="3.80" lengthAdjust="spacingAndGlyphs" >-</text>
<text x="404.70" y="1140.60" font-size="22.2" font-family="Liberation Sans, sans-serif" font-weight="bold" stroke="#0d0d0d" stroke-width="0.8" stroke-linejoin="round" fill="#0d0d0d" textLength="57.80" lengthAdjust="spacingAndGlyphs" >CD14</text>
<text x="463.70" y="1129.60" font-size="14" font-family="Liberation Sans, sans-serif" font-weight="bold" stroke="#0d0d0d" stroke-width="0.8" stroke-linejoin="round" fill="#0d0d0d" textLength="3.60" lengthAdjust="spacingAndGlyphs" >-</text>
</g>
</svg>
</body></html>
